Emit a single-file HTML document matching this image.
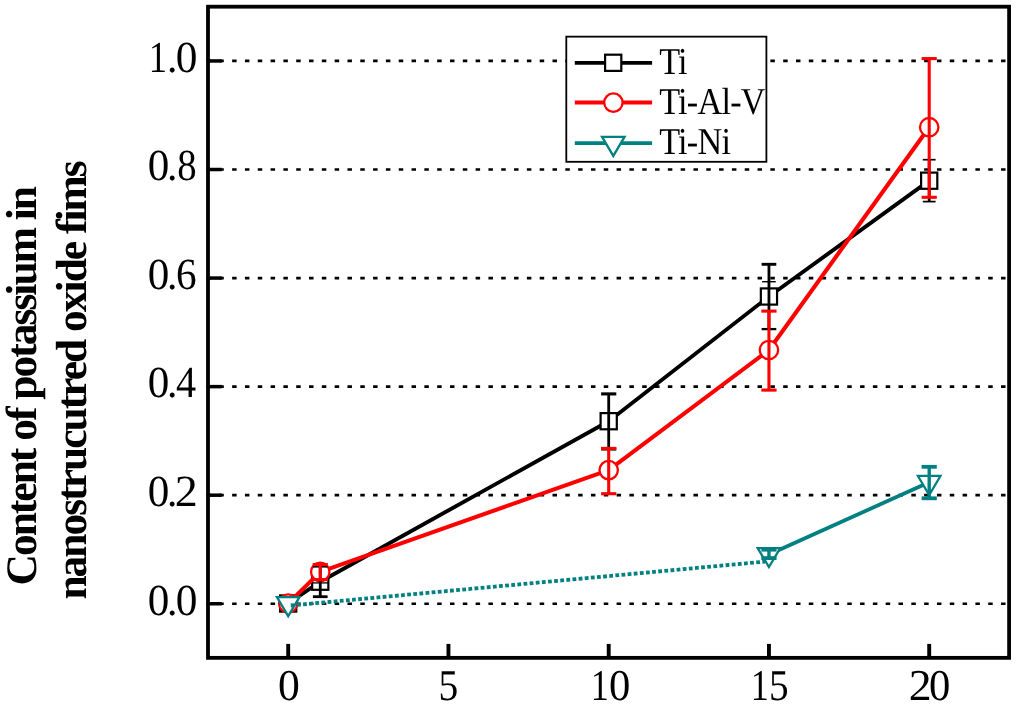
<!DOCTYPE html><html><head><meta charset="utf-8"><style>html,body{margin:0;padding:0;background:#fff;width:1024px;height:707px;overflow:hidden}svg{display:block;will-change:transform}text{font-family:"Liberation Serif",serif;text-rendering:geometricPrecision}</style></head><body>
<svg width="1024" height="707" viewBox="0 0 1024 707">
<rect width="1024" height="707" fill="#fff"/>
<line x1="206.5" y1="603.75" x2="1007.3" y2="603.75" stroke="#000" stroke-width="2.7" stroke-dasharray="4.5 8.315"/>
<line x1="206.5" y1="495.19" x2="1007.3" y2="495.19" stroke="#000" stroke-width="2.7" stroke-dasharray="4.5 8.315"/>
<line x1="206.5" y1="386.63" x2="1007.3" y2="386.63" stroke="#000" stroke-width="2.7" stroke-dasharray="4.5 8.315"/>
<line x1="206.5" y1="278.07" x2="1007.3" y2="278.07" stroke="#000" stroke-width="2.7" stroke-dasharray="4.5 8.315"/>
<line x1="206.5" y1="169.51" x2="1007.3" y2="169.51" stroke="#000" stroke-width="2.7" stroke-dasharray="4.5 8.315"/>
<line x1="206.5" y1="60.95" x2="1007.3" y2="60.95" stroke="#000" stroke-width="2.7" stroke-dasharray="4.5 8.315"/>
<rect x="208" y="6.7" width="801.1" height="651.15" fill="none" stroke="#000" stroke-width="3.8"/>
<line x1="208" y1="603.75" x2="221.8" y2="603.75" stroke="#000" stroke-width="3.5"/>
<line x1="208" y1="495.19" x2="221.8" y2="495.19" stroke="#000" stroke-width="3.5"/>
<line x1="208" y1="386.63" x2="221.8" y2="386.63" stroke="#000" stroke-width="3.5"/>
<line x1="208" y1="278.07" x2="221.8" y2="278.07" stroke="#000" stroke-width="3.5"/>
<line x1="208" y1="169.51" x2="221.8" y2="169.51" stroke="#000" stroke-width="3.5"/>
<line x1="208" y1="60.95" x2="221.8" y2="60.95" stroke="#000" stroke-width="3.5"/>
<line x1="288.20" y1="657.85" x2="288.20" y2="643.9" stroke="#000" stroke-width="3.9"/>
<line x1="448.45" y1="657.85" x2="448.45" y2="643.9" stroke="#000" stroke-width="3.9"/>
<line x1="608.70" y1="657.85" x2="608.70" y2="643.9" stroke="#000" stroke-width="3.9"/>
<line x1="768.95" y1="657.85" x2="768.95" y2="643.9" stroke="#000" stroke-width="3.9"/>
<line x1="929.20" y1="657.85" x2="929.20" y2="643.9" stroke="#000" stroke-width="3.9"/>
<text transform="translate(147.67,614.55) scale(0.969,1)" font-size="44.5">0</text>
<text transform="translate(167.03,614.55) scale(0.935,1)" font-size="44.5">.</text>
<text transform="translate(175.86,614.55) scale(0.974,1)" font-size="44.5">0</text>
<text transform="translate(147.67,505.99) scale(0.969,1)" font-size="44.5">0</text>
<text transform="translate(167.03,505.99) scale(0.935,1)" font-size="44.5">.</text>
<text transform="translate(174.76,505.99) scale(1.034,1)" font-size="44.5">2</text>
<text transform="translate(147.67,397.43) scale(0.969,1)" font-size="44.5">0</text>
<text transform="translate(167.03,397.43) scale(0.935,1)" font-size="44.5">.</text>
<text transform="translate(175.99,397.43) scale(0.905,1)" font-size="44.5">4</text>
<text transform="translate(147.67,288.87) scale(0.969,1)" font-size="44.5">0</text>
<text transform="translate(167.03,288.87) scale(0.935,1)" font-size="44.5">.</text>
<text transform="translate(176.06,288.87) scale(0.927,1)" font-size="44.5">6</text>
<text transform="translate(147.67,180.31) scale(0.969,1)" font-size="44.5">0</text>
<text transform="translate(167.03,180.31) scale(0.935,1)" font-size="44.5">.</text>
<text transform="translate(177.34,180.31) scale(0.868,1)" font-size="44.5">8</text>
<text transform="translate(148.75,71.75) scale(0.820,1)" font-size="44.5">1</text>
<text transform="translate(167.03,71.75) scale(0.935,1)" font-size="44.5">.</text>
<text transform="translate(175.86,71.75) scale(0.974,1)" font-size="44.5">0</text>
<text transform="translate(278.05,699.70) scale(0.991,1)" font-size="44.0">0</text>
<text transform="translate(438.52,699.70) scale(0.898,1)" font-size="44.0">5</text>
<text transform="translate(590.76,699.70) scale(0.820,1)" font-size="44.0">1</text>
<text transform="translate(609.09,699.70) scale(0.969,1)" font-size="44.0">0</text>
<text transform="translate(750.86,699.70) scale(0.820,1)" font-size="44.0">1</text>
<text transform="translate(769.03,699.70) scale(0.893,1)" font-size="44.0">5</text>
<text transform="translate(908.67,699.70) scale(1.040,1)" font-size="44.0">2</text>
<text transform="translate(929.09,699.70) scale(0.969,1)" font-size="44.0">0</text>
<text transform="translate(36.2,585.5) rotate(-90)" font-size="43.5" font-weight="bold" letter-spacing="-2.0">Content of potassium in</text>
<text transform="translate(85.6,599.6) rotate(-90)" font-size="43.5" font-weight="bold" letter-spacing="-2.0">nanostrucutred oxide fims</text>
<polyline points="288.20,603.50 320.25,581.70 608.70,421.20 768.95,296.50 929.20,180.70" fill="none" stroke="#000" stroke-width="3.9" stroke-linejoin="round"/>
<rect x="280.10" y="595.40" width="16.2" height="16.2" fill="#fff" stroke="#000" stroke-width="2.2"/>
<rect x="312.15" y="573.60" width="16.2" height="16.2" fill="#fff" stroke="#000" stroke-width="2.2"/>
<rect x="600.60" y="413.10" width="16.2" height="16.2" fill="#fff" stroke="#000" stroke-width="2.2"/>
<rect x="760.85" y="288.40" width="16.2" height="16.2" fill="#fff" stroke="#000" stroke-width="2.2"/>
<rect x="921.10" y="172.60" width="16.2" height="16.2" fill="#fff" stroke="#000" stroke-width="2.2"/>
<polyline points="288.20,603.50 320.25,571.90 608.70,470.10 768.95,350.00 929.20,127.20" fill="none" stroke="#ff0000" stroke-width="4.1" stroke-linejoin="round"/>
<circle cx="288.20" cy="603.50" r="9.2" fill="#fff" stroke="#ff0000" stroke-width="2.3"/>
<circle cx="320.25" cy="571.90" r="9.2" fill="#fff" stroke="#ff0000" stroke-width="2.3"/>
<circle cx="608.70" cy="470.10" r="9.2" fill="#fff" stroke="#ff0000" stroke-width="2.3"/>
<circle cx="768.95" cy="350.00" r="9.2" fill="#fff" stroke="#ff0000" stroke-width="2.3"/>
<circle cx="929.20" cy="127.20" r="9.2" fill="#fff" stroke="#ff0000" stroke-width="2.3"/>
<line x1="320.25" y1="566.80" x2="320.25" y2="596.70" stroke="#000" stroke-width="2.8"/><line x1="312.90" y1="566.80" x2="327.60" y2="566.80" stroke="#000" stroke-width="1.6"/><line x1="312.90" y1="596.70" x2="327.60" y2="596.70" stroke="#000" stroke-width="2.8"/>
<line x1="608.70" y1="393.90" x2="608.70" y2="449.00" stroke="#000" stroke-width="2.8"/><line x1="601.10" y1="393.90" x2="616.30" y2="393.90" stroke="#000" stroke-width="3.1"/><line x1="601.10" y1="449.00" x2="616.30" y2="449.00" stroke="#000" stroke-width="3.1"/>
<line x1="768.95" y1="264.30" x2="768.95" y2="329.10" stroke="#000" stroke-width="2.8"/><line x1="761.60" y1="264.30" x2="776.30" y2="264.30" stroke="#000" stroke-width="2.9"/><line x1="761.60" y1="329.10" x2="776.30" y2="329.10" stroke="#000" stroke-width="2.3"/>
<line x1="929.20" y1="159.70" x2="929.20" y2="201.60" stroke="#000" stroke-width="2.8"/><line x1="922.80" y1="159.70" x2="935.60" y2="159.70" stroke="#000" stroke-width="1.7"/><line x1="922.80" y1="201.60" x2="935.60" y2="201.60" stroke="#000" stroke-width="1.7"/>
<line x1="762.15" y1="281.70" x2="775.75" y2="281.70" stroke="#000" stroke-width="1.4"/>
<line x1="312.65" y1="582.90" x2="327.85" y2="582.90" stroke="#000" stroke-width="1.3"/>
<line x1="320.25" y1="564.60" x2="320.25" y2="579.60" stroke="#ff0000" stroke-width="3.1"/><line x1="312.65" y1="564.60" x2="327.85" y2="564.60" stroke="#ff0000" stroke-width="3.1"/><line x1="312.65" y1="579.60" x2="327.85" y2="579.60" stroke="#ff0000" stroke-width="3.1"/>
<line x1="608.70" y1="448.40" x2="608.70" y2="493.70" stroke="#ff0000" stroke-width="3.1"/><line x1="601.10" y1="448.40" x2="616.30" y2="448.40" stroke="#ff0000" stroke-width="3.1"/><line x1="601.10" y1="493.70" x2="616.30" y2="493.70" stroke="#ff0000" stroke-width="3.1"/>
<line x1="768.95" y1="311.10" x2="768.95" y2="390.10" stroke="#ff0000" stroke-width="3.1"/><line x1="761.35" y1="311.10" x2="776.55" y2="311.10" stroke="#ff0000" stroke-width="3.1"/><line x1="761.35" y1="390.10" x2="776.55" y2="390.10" stroke="#ff0000" stroke-width="3.1"/>
<line x1="929.20" y1="58.60" x2="929.20" y2="197.30" stroke="#ff0000" stroke-width="3.1"/><line x1="921.60" y1="58.60" x2="936.80" y2="58.60" stroke="#ff0000" stroke-width="3.1"/><line x1="921.60" y1="197.30" x2="936.80" y2="197.30" stroke="#ff0000" stroke-width="3.1"/>
<line x1="768.95" y1="554.4" x2="929.20" y2="482.3" stroke="#008080" stroke-width="3.8"/>
<path d="M276.95,597.17 L299.45,597.17 L288.20,616.17 Z" fill="#fff" stroke="#008080" stroke-width="2.3" stroke-linejoin="miter"/>
<path d="M757.70,548.07 L780.20,548.07 L768.95,567.07 Z" fill="#fff" stroke="#008080" stroke-width="2.3" stroke-linejoin="miter"/>
<path d="M917.95,475.97 L940.45,475.97 L929.20,494.97 Z" fill="#fff" stroke="#008080" stroke-width="2.3" stroke-linejoin="miter"/>
<line x1="290.8" y1="605.5" x2="765" y2="561.6" stroke="#008080" stroke-width="3.8" stroke-dasharray="3.8 2.35"/>
<line x1="768.95" y1="549.70" x2="768.95" y2="558.10" stroke="#008080" stroke-width="3.4"/><line x1="761.35" y1="549.70" x2="776.55" y2="549.70" stroke="#008080" stroke-width="3.8"/><line x1="761.35" y1="558.10" x2="776.55" y2="558.10" stroke="#008080" stroke-width="3.8"/>
<line x1="929.20" y1="466.80" x2="929.20" y2="498.30" stroke="#008080" stroke-width="3.4"/><line x1="921.60" y1="466.80" x2="936.80" y2="466.80" stroke="#008080" stroke-width="3.8"/><line x1="921.60" y1="498.30" x2="936.80" y2="498.30" stroke="#008080" stroke-width="3.8"/>
<rect x="566.3" y="36.65" width="200.1" height="125.15" fill="#fff" stroke="#000" stroke-width="1.8"/>
<line x1="574.8" y1="62.8" x2="652.1" y2="62.8" stroke="#000" stroke-width="3.8"/>
<line x1="574.8" y1="102.5" x2="652.1" y2="102.5" stroke="#ff0000" stroke-width="3.8"/>
<line x1="574.8" y1="143.2" x2="652.1" y2="143.2" stroke="#008080" stroke-width="3.8"/>
<rect x="605.10" y="54.70" width="16.2" height="16.2" fill="#fff" stroke="#000" stroke-width="2.2"/>
<circle cx="613.40" cy="102.60" r="9.2" fill="#fff" stroke="#ff0000" stroke-width="2.3"/>
<path d="M602.05,136.87 L624.55,136.87 L613.30,155.87 Z" fill="#fff" stroke="#008080" stroke-width="2.3" stroke-linejoin="miter"/>
<text transform="translate(659.2,73.5) scale(0.9,1)" font-size="38" letter-spacing="-0.85">Ti</text>
<text transform="translate(659.2,113.6) scale(0.9,1)" font-size="38" letter-spacing="-0.85">Ti-Al-V</text>
<text transform="translate(659.2,153.5) scale(0.9,1)" font-size="38" letter-spacing="-0.85">Ti-Ni</text>
</svg></body></html>
